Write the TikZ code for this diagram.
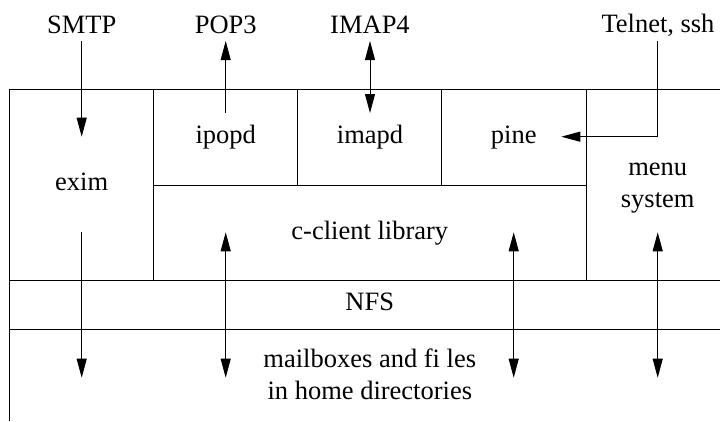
\documentclass[tikz,border=0pt]{standalone}
\usepackage{fontspec}
\setmainfont{Liberation Serif}
\usetikzlibrary{arrows.meta}
\begin{document}
\begin{tikzpicture}[x=1pt,y=-1pt,
  lbl/.style={anchor=base,inner sep=0pt,align=center,font=\fontsize{26.5}{32}\selectfont},
  wall/.style={line width=1pt,draw=black},
  tipx/.tip={Triangle[length=19pt,width=10pt]},
  arr/.style={line width=0.9pt,-tipx},
  darr/.style={line width=0.9pt,tipx-tipx}]
\useasboundingbox (0,0) rectangle (720,421);
% layer walls
\draw[wall] (9.5,421) -- (9.5,89.3) -- (720,89.3);
\draw[wall] (153.7,89.3) -- (153.7,280.7);
\draw[wall] (297.7,89.3) -- (297.7,185);
\draw[wall] (441.7,89.3) -- (441.7,185);
\draw[wall] (586,89.3) -- (586,280.7);
\draw[wall] (153.7,185) -- (586,185);
\draw[wall] (9.5,280.7) -- (720,280.7);
\draw[wall] (9.5,329) -- (720,329);
% labels
\node[lbl] (smtp) at (81.7,33) {SMTP};
\node[lbl] (pop3) at (225.7,33) {POP3};
\node[lbl] (imap4) at (370,33) {IMAP4};
\node[lbl] (telnet) at (658,32) {Telnet, ssh};
\node[lbl] (exim) at (81.7,190) {exim};
\node[lbl] (ipopd) at (225.7,143) {ipopd};
\node[lbl] (imapd) at (370,143) {imapd};
\node[lbl] (pine) at (513.7,143) {pine};
\node[lbl] (menu) at (657.7,207) {menu\\system};
\node[lbl] (cclient) at (369.8,239) {c-client library};
\node[lbl] (nfs) at (369.8,310) {NFS};
\node[lbl] (mbox) at (369.8,399) {mailboxes and fi les\\in home directories};
% connector ends
\coordinate (a1s) at (81.7,41);   \coordinate (a1e) at (81.7,136.7);
\coordinate (a2s) at (225.7,113); \coordinate (a2e) at (225.7,41);
\coordinate (a3s) at (370,41);    \coordinate (a3e) at (370,113);
\coordinate (a4s) at (657.7,41);  \coordinate (a4e) at (561.3,136.7);
\coordinate (b1s) at (81.7,232.3);  \coordinate (b1e) at (81.7,377.7);
\coordinate (b2s) at (225.7,232.3); \coordinate (b2e) at (225.7,377.7);
\coordinate (b3s) at (513.7,232.3); \coordinate (b3e) at (513.7,377.7);
\coordinate (b4s) at (657.7,232.3); \coordinate (b4e) at (657.7,377.7);
% connectors
\draw[arr] (a1s) -- (a1e);
\draw[arr] (a2s) -- (a2e);
\draw[darr] (a3s) -- (a3e);
\draw[arr] (a4s) |- (a4e);
\draw[arr] (b1s) -- (b1e);
\draw[darr] (b2s) -- (b2e);
\draw[darr] (b3s) -- (b3e);
\draw[darr] (b4s) -- (b4e);
\end{tikzpicture}
\end{document}
